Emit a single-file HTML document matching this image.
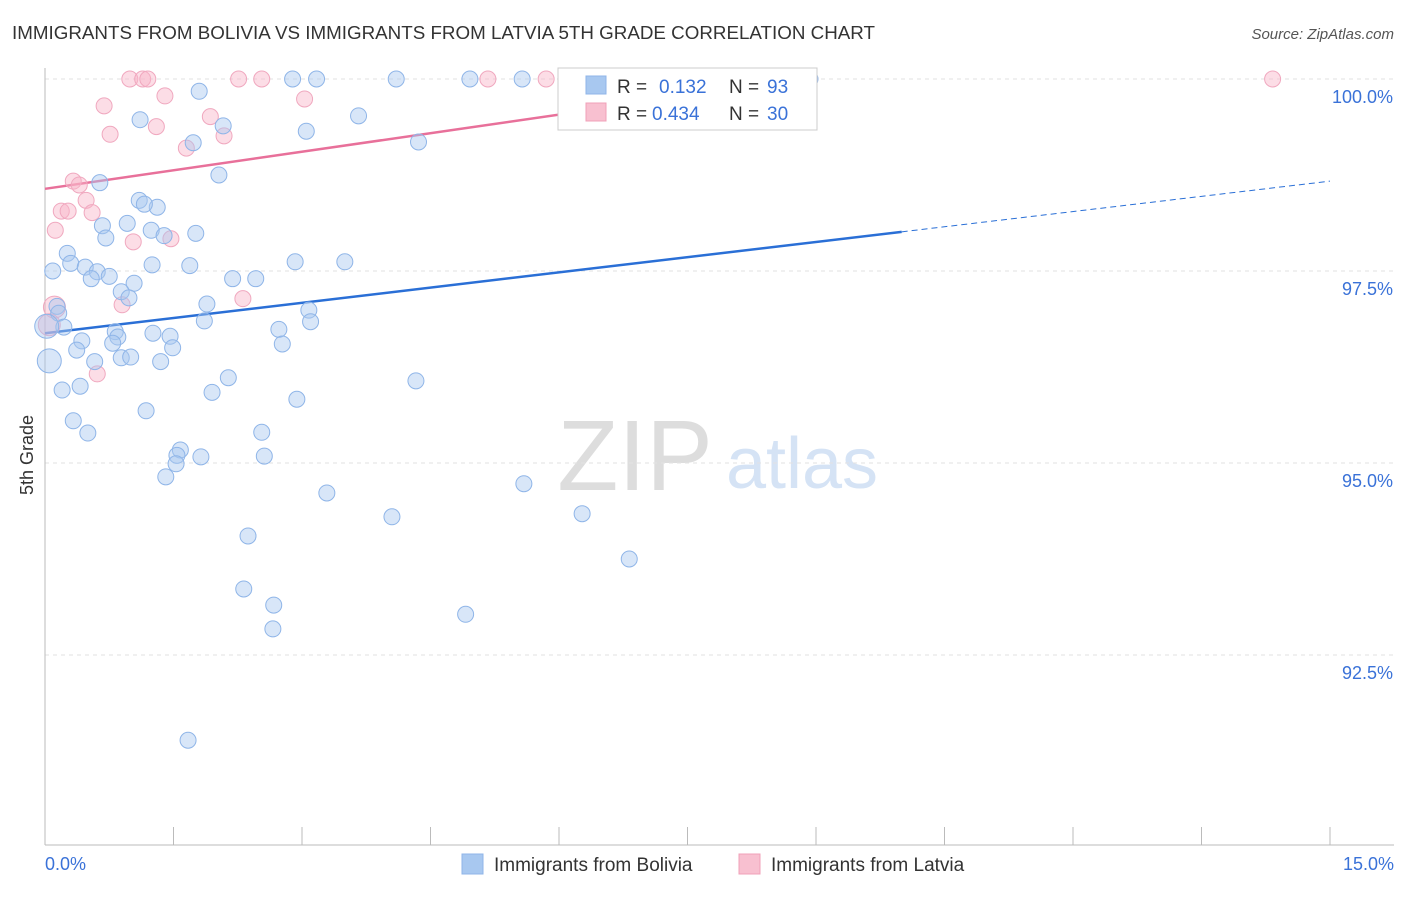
<!DOCTYPE html>
<html><head><meta charset="utf-8">
<style>
body{margin:0;background:#fff;font-family:"Liberation Sans",sans-serif;}
svg text{font-family:"Liberation Sans",sans-serif;}
</style></head>
<body>
<svg id="chart" width="1406" height="892" viewBox="0 0 1406 892">
<text x="12" y="39" font-size="18" fill="#333" textLength="863" lengthAdjust="spacingAndGlyphs">IMMIGRANTS FROM BOLIVIA VS IMMIGRANTS FROM LATVIA 5TH GRADE CORRELATION CHART</text>
<text x="1394" y="39" font-size="15" fill="#555" font-style="italic" text-anchor="end">Source: ZipAtlas.com</text>
<text transform="translate(33,455) rotate(-90)" font-size="18" fill="#333" text-anchor="middle">5th Grade</text>
<g>
<text x="635" y="490" font-size="100" fill="#ddd" font-family="Liberation Serif" text-anchor="middle">ZIP</text>
<text x="802" y="488" font-size="72" fill="#d5e3f5" text-anchor="middle">atlas</text>
</g>
<g id="grid"></g><g id="axes"></g><g id="lines"></g><g id="pts"></g>
<g>
<rect x="558" y="68" width="259" height="62" fill="#fff" stroke="#ccc"/>
<rect x="586" y="76" width="20" height="18" fill="#a8c8f0" stroke="#8fb5e8"/>
<text x="617" y="93" font-size="19" fill="#333">R = </text><text x="659" y="93" font-size="19" fill="#3a72d8">0.132</text>
<text x="729" y="93" font-size="19" fill="#333">N = </text><text x="767" y="93" font-size="19" fill="#3a72d8">93</text>
<rect x="586" y="103" width="20" height="18" fill="#f8c0d0" stroke="#f0a0b8"/>
<text x="617" y="120" font-size="19" fill="#333">R = </text><text x="652" y="120" font-size="19" fill="#3a72d8">0.434</text>
<text x="729" y="120" font-size="19" fill="#333">N = </text><text x="767" y="120" font-size="19" fill="#3a72d8">30</text>
</g>
<g>
<rect x="462" y="854" width="21" height="20" fill="#a8c8f0" stroke="#8fb5e8"/>
<text x="494" y="871" font-size="19" fill="#333">Immigrants from Bolivia</text>
<rect x="739" y="854" width="21" height="20" fill="#f8c0d0" stroke="#f0a0b8"/>
<text x="771" y="871" font-size="19" fill="#333">Immigrants from Latvia</text>
</g>
</svg>
<script>
const blueX=[2.89,3.17,4.10,4.96,5.57,8.93,1.80,1.11,2.08,3.05,3.66,4.36,1.73,2.03,0.64,1.10,1.31,1.16,0.96,0.67,1.24,1.39,1.76,0.71,0.26,0.30,0.09,0.47,0.61,0.75,0.54,1.25,1.69,2.19,2.46,2.92,3.50,0.89,1.04,0.98,1.89,1.86,0.14,0.16,0.22,0.02,3.08,3.10,2.73,2.77,0.82,0.85,1.26,1.46,0.79,1.49,0.43,0.37,0.89,1.00,1.35,0.58,0.05,2.14,4.33,1.95,2.94,0.20,0.41,1.18,0.33,0.50,2.53,1.58,1.82,2.56,1.54,1.53,1.41,3.29,5.59,4.05,6.27,2.37,6.82,2.32,2.67,4.91,2.66,1.67];
const blueY=[100,100,100,100,100,100,99.84,99.47,99.39,99.32,99.52,99.18,99.17,98.75,98.65,98.42,98.33,98.37,98.12,98.09,98.03,97.96,97.99,97.93,97.73,97.60,97.50,97.55,97.49,97.43,97.40,97.58,97.57,97.40,97.40,97.62,97.62,97.23,97.34,97.15,97.07,96.85,97.04,96.95,96.77,96.78,96.99,96.84,96.74,96.55,96.71,96.64,96.69,96.65,96.56,96.50,96.59,96.47,96.37,96.38,96.32,96.32,96.33,96.11,96.07,95.92,95.83,95.95,96.00,95.68,95.55,95.39,95.40,95.17,95.08,95.09,95.10,94.99,94.82,94.61,94.73,94.30,94.34,94.05,93.75,93.36,93.15,93.03,92.84,91.39];
const blueBig=[45,62];
const pinkX=[0.99,1.14,1.20,2.26,2.53,5.17,5.85,14.33,1.40,3.03,0.69,1.93,1.30,0.76,2.09,1.65,0.33,0.40,0.48,0.19,0.27,0.55,0.12,1.03,1.47,2.31,0.90,0.11,0.05,0.61];
const pinkY=[100,100,100,100,100,100,100,100,99.78,99.74,99.65,99.51,99.38,99.28,99.26,99.10,98.67,98.62,98.42,98.28,98.28,98.26,98.03,97.88,97.92,97.14,97.06,97.03,96.80,96.16];
const pinkBig=[27,28];
const blueTrend=[96.69,0.132];
const pinkTrend=[98.57,0.161];
const yTicks=[100,97.5,95,92.5];
const yTickLabels=["100.0%","97.5%","95.0%","92.5%"];
const xTicks=[0,1.5,3,4.5,6,7.5,9,10.5,12,13.5,15];
const xLabels=["0.0%","15.0%"];

const NS="http://www.w3.org/2000/svg";
const X=v=>45+v/15*1285;
const Y=v=>79+(100-v)/2.5*192;
function mk(tag,attrs,parent){const e=document.createElementNS(NS,tag);for(const k in attrs)e.setAttribute(k,attrs[k]);document.getElementById(parent).appendChild(e);return e;}
yTicks.forEach((t,i)=>{
 const l=mk('line',{x1:45,x2:1394,y1:Y(t),y2:Y(t),stroke:'#e2e2e2','stroke-dasharray':'4,4'},'grid');
 
 
 const tx=mk('text',{x:1393,y:Y(t)+24,'font-size':18,fill:'#3a72d8','text-anchor':'end'},'axes');
 tx.textContent=yTickLabels[i];
 
 
});
const ax=mk('line',{x1:45,x2:1394,y1:845,y2:845,stroke:'#bbb'},'axes');


const ay=mk('line',{x1:45,x2:45,y1:68,y2:845,stroke:'#bbb'},'axes');


xTicks.forEach(t=>{
 const l=mk('line',{x1:X(t),x2:X(t),y1:827,y2:845,stroke:'#bbb'},'axes');
 
 
});
const xl0=mk('text',{x:45,y:870,'font-size':18,fill:'#3a72d8'},'axes');xl0.textContent=xLabels[0];


const xl1=mk('text',{x:1394,y:870,'font-size':18,fill:'#3a72d8','text-anchor':'end'},'axes');xl1.textContent=xLabels[1];



pinkX.forEach((x,i)=>{
 const big=pinkBig.includes(i);
 const c=mk('circle',{cx:X(x),cy:Y(pinkY[i]),r:big?11:8,fill:'rgba(248,180,200,0.45)',stroke:'#f0a8bf','stroke-width':1},'pts');
 
 
});
blueX.forEach((x,i)=>{
 const big=blueBig.includes(i);
 const c=mk('circle',{cx:X(x),cy:Y(blueY[i]),r:big?12:8,fill:'rgba(168,200,240,0.45)',stroke:'#8fb5e8','stroke-width':1},'pts');
 
 
});
const bl=mk('line',{x1:X(0),y1:Y(blueTrend[0]),x2:X(10),y2:Y(blueTrend[0]+blueTrend[1]*10),stroke:'#2a6fd6','stroke-width':2.5},'lines');


const bd=mk('line',{x1:X(10),y1:Y(blueTrend[0]+blueTrend[1]*10),x2:X(15),y2:Y(blueTrend[0]+blueTrend[1]*15),stroke:'#2a6fd6','stroke-width':1,'stroke-dasharray':'6,4'},'lines');


const pl=mk('line',{x1:X(0),y1:Y(pinkTrend[0]),x2:X(8.9),y2:Y(pinkTrend[0]+pinkTrend[1]*8.9),stroke:'#e8709a','stroke-width':2.5},'lines');


</script>
</body></html>
